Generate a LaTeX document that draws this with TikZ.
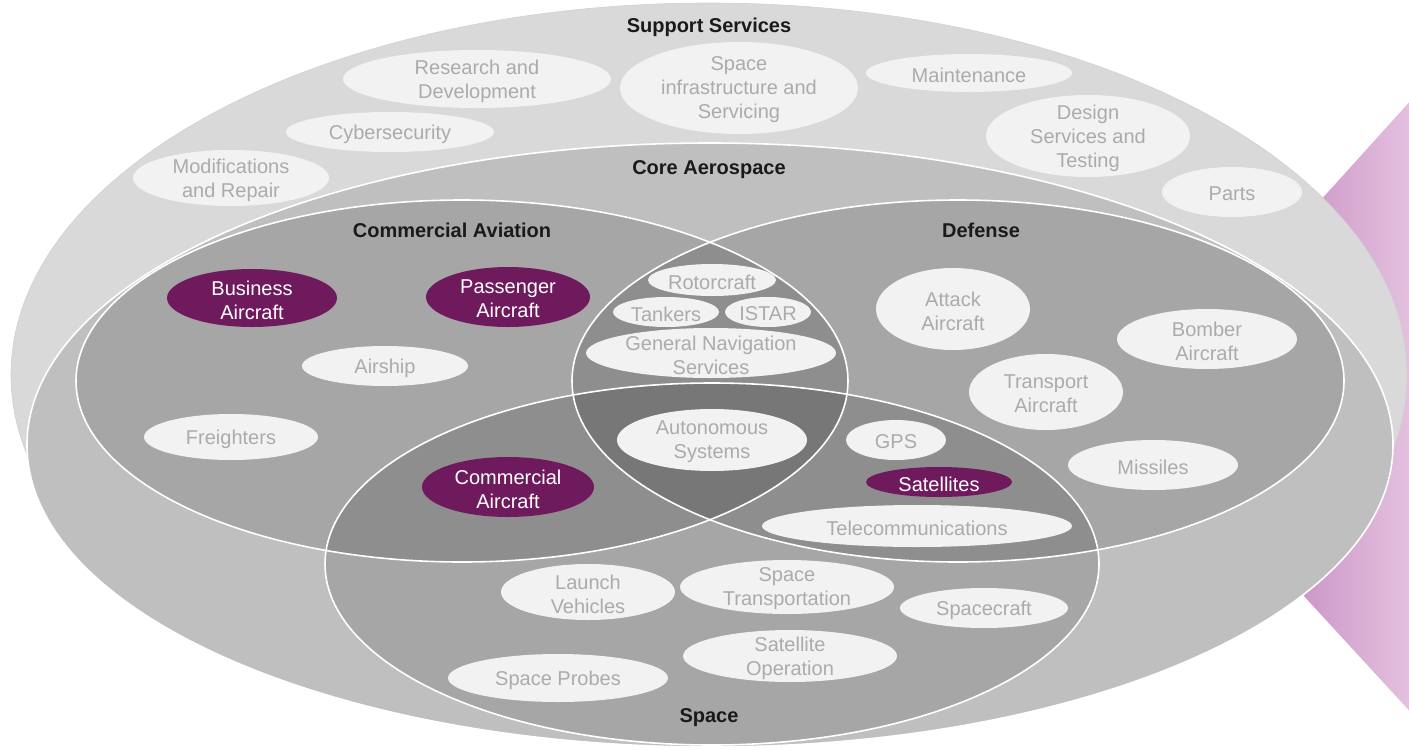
\documentclass[tikz,border=0pt]{standalone}
\usepackage{fontspec}
\setmainfont{Liberation Sans}
\definecolor{outerc}{HTML}{D9D9D9}
\definecolor{corec}{HTML}{BFBFBF}
\definecolor{onec}{HTML}{A6A6A6}
\definecolor{twoc}{HTML}{8E8E8E}
\definecolor{threec}{HTML}{777777}
\definecolor{itemc}{HTML}{F2F2F2}
\definecolor{itemtxt}{HTML}{ABABAB}
\definecolor{purp}{HTML}{701A5E}
\definecolor{pinkL}{RGB}{167,87,165}
\definecolor{pinkR}{RGB}{237,208,231}
\definecolor{labc}{HTML}{1A1A1A}
\tikzset{
  plain fill/.style={fill=itemc},
  plain text/.style={text=itemtxt, align=center, inner sep=0pt, yshift=-1pt, font=\fontsize{10}{12}\selectfont},
  hot fill/.style={fill=purp},
  hot text/.style={text=white, align=center, inner sep=0pt, yshift=-1pt, font=\fontsize{10}{12}\selectfont},
  grouplabel/.style={text=labc, inner sep=0pt, yshift=-1pt, font=\bfseries\fontsize{10}{12}\selectfont},
  rim/.style={draw=white, line width=0.8pt},
}
\newcommand\blob[7]{%
  \fill[#6 fill] (#2,#3) ellipse [x radius=#4, y radius=#5];
  \node[#6 text] (#1) at (#2,#3) {#7};}
\begin{document}
\begin{tikzpicture}[x=0.5pt,y=-0.5pt]
\useasboundingbox (0,0) rectangle (1409,750);
\begin{scope}
\clip (0,0) rectangle (1409,750);
% pink chevron behind
\shade[left color=pinkL, right color=pinkR] (1132,409) -- (1450,57) -- (1450,755) -- cycle;
\end{scope}
% outer ellipse
\fill[outerc, draw=black!18, line width=0.3pt] (709,375) ellipse [x radius=698, y radius=372];
% core
\fill[corec] (710,445) ellipse [x radius=683, y radius=302];
\draw[rim] (710,445) ellipse [x radius=683, y radius=302];
% three groups
\fill[onec] (462,381) ellipse [x radius=386, y radius=181];
\fill[onec] (958,381) ellipse [x radius=386, y radius=181];
\fill[onec] (712,564) ellipse [x radius=387, y radius=181];
\begin{scope}
  \clip (462,381) ellipse [x radius=386, y radius=181];
  \fill[twoc] (958,381) ellipse [x radius=386, y radius=181];
  \fill[twoc] (712,564) ellipse [x radius=387, y radius=181];
\end{scope}
\begin{scope}
  \clip (958,381) ellipse [x radius=386, y radius=181];
  \fill[twoc] (712,564) ellipse [x radius=387, y radius=181];
\end{scope}
\begin{scope}
  \clip (462,381) ellipse [x radius=386, y radius=181];
  \clip (958,381) ellipse [x radius=386, y radius=181];
  \fill[threec] (712,564) ellipse [x radius=387, y radius=181];
\end{scope}
\draw[rim] (462,381) ellipse [x radius=386, y radius=181];
\draw[rim] (958,381) ellipse [x radius=386, y radius=181];
\draw[rim] (712,564) ellipse [x radius=387, y radius=181];
% group labels
\node[grouplabel] (lsupport) at (709,25) {Support Services};
\node[grouplabel] (lcore) at (709,168) {Core Aerospace};
\node[grouplabel] (lcomm) at (452,228) {Commercial Aviation};
\node[grouplabel] (ldef) at (981,228) {Defense};
\node[grouplabel] (lspace) at (709,716) {Space};
% support services items
\blob{rd}{477}{79}{134}{29}{plain}{Research and\\Development}
\blob{cyber}{390}{132}{104}{20}{plain}{Cybersecurity}
\blob{mods}{231}{178}{98}{28}{plain}{Modifications\\and Repair}
\blob{spinf}{739}{88}{119}{46}{plain}{Space\\infrastructure and\\Servicing}
\blob{maint}{969}{73}{103}{19}{plain}{Maintenance}
\blob{design}{1088}{136}{102}{41}{plain}{Design\\Services and\\Testing}
\blob{parts}{1232}{192}{70}{25}{plain}{Parts}
% commercial aviation
\blob{business}{252}{298}{85}{29}{hot}{Business\\Aircraft}
\blob{passenger}{508}{297}{82}{30}{hot}{Passenger\\Aircraft}
\blob{airship}{385}{366}{83}{20}{plain}{Airship}
\blob{freighters}{231}{437}{87}{23}{plain}{Freighters}
\blob{commac}{508}{487}{86}{30}{hot}{Commercial\\Aircraft}
% lens
\blob{rotor}{712}{280}{64}{16}{plain}{Rotorcraft}
\blob{tankers}{666}{312}{53}{15}{plain}{Tankers}
\blob{istar}{768}{312}{43}{15}{plain}{ISTAR}
\blob{gns}{711}{353}{125}{25}{plain}{General Navigation\\Services}
\blob{auto}{712}{440}{95}{31}{plain}{Autonomous\\Systems}
% defense
\blob{attack}{953}{309}{77}{41}{plain}{Attack\\Aircraft}
\blob{bomber}{1207}{339}{90}{30}{plain}{Bomber\\Aircraft}
\blob{transport}{1046}{392}{77}{38}{plain}{Transport\\Aircraft}
\blob{missiles}{1153}{465}{85}{25}{plain}{Missiles}
\blob{gps}{896}{440}{50}{20}{plain}{GPS}
\blob{satellites}{939}{482}{73}{15}{hot}{Satellites}
\blob{telecom}{917}{526}{155}{21}{plain}{Telecommunications}
% space
\blob{launch}{588}{592}{87}{28}{plain}{Launch\\Vehicles}
\blob{spacetr}{787}{587}{107}{27}{plain}{Space\\Transportation}
\blob{spacecraft}{984}{608}{84}{20}{plain}{Spacecraft}
\blob{satop}{790}{656}{107}{26}{plain}{Satellite\\Operation}
\blob{probes}{558}{678}{110}{24}{plain}{Space Probes}
\end{tikzpicture}
\end{document}
